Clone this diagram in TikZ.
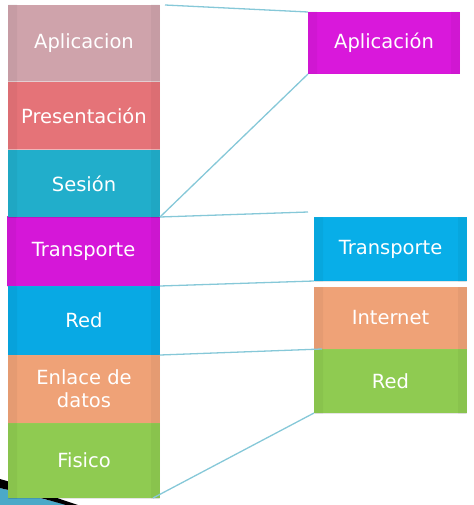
\documentclass[tikz,border=0pt]{standalone}
\usepackage{fontspec}
\setmainfont{DejaVu Sans}
\definecolor{cApl}{HTML}{CFA3AB}
\definecolor{cPre}{HTML}{E57378}
\definecolor{cSes}{HTML}{21AECB}
\definecolor{cTra}{HTML}{D517D8}
\definecolor{cRed}{HTML}{08A9E4}
\definecolor{cEnl}{HTML}{EFA277}
\definecolor{cFis}{HTML}{8FCB51}
\definecolor{cAplB}{HTML}{D918DB}
\definecolor{cTraB}{HTML}{08AEE8}
\definecolor{cLine}{HTML}{86C8D8}
\definecolor{cSwoosh}{HTML}{4BA9C8}
\tikzset{
  layer/.style={draw=none, inner sep=0pt, outer sep=0pt, anchor=north west,
    text=white, align=center,
    font=\fontsize{19.5}{23}\selectfont,
    path picture={
      \def\bv{9pt}
      \fill[white, opacity=0.22] (path picture bounding box.north west) -- (path picture bounding box.north east)
        -- ([xshift=-\bv,yshift=\bv]path picture bounding box.north east) -- ([xshift=\bv,yshift=\bv]path picture bounding box.north west) -- cycle;
      \fill[black, opacity=0.10] (path picture bounding box.south west) -- (path picture bounding box.south east)
        -- ([xshift=-\bv,yshift=-\bv]path picture bounding box.south east) -- ([xshift=\bv,yshift=-\bv]path picture bounding box.south west) -- cycle;
      \fill[black, opacity=0.04] (path picture bounding box.north west) -- (path picture bounding box.south west)
        -- ([xshift=\bv,yshift=-\bv]path picture bounding box.south west) -- ([xshift=\bv,yshift=\bv]path picture bounding box.north west) -- cycle;
      \fill[black, opacity=0.04] (path picture bounding box.north east) -- (path picture bounding box.south east)
        -- ([xshift=-\bv,yshift=-\bv]path picture bounding box.south east) -- ([xshift=-\bv,yshift=\bv]path picture bounding box.north east) -- cycle;
      \fill[white, opacity=0.35] (path picture bounding box.north west) rectangle ([yshift=2pt]path picture bounding box.north east);
    }},
  link/.style={draw=cLine, line width=1.3pt}
}
\begin{document}
\begin{tikzpicture}[x=1pt, y=-1pt]
\useasboundingbox (0,0) rectangle (473,505);
% decorative swoosh bottom-left
\fill[cSwoosh] (0,488) .. controls (25,494) and (45,500) .. (70,505) -- (0,505) -- cycle;
\fill[black] (0,479) .. controls (25,486) and (50,496) .. (78,505) -- (66,505) .. controls (45,499) and (22,493) .. (0,488) -- cycle;
% left stack
\node[layer, fill=cApl, minimum width=152pt, minimum height=77pt] (apl) at (8,5) {Aplicacion};
\node[layer, fill=cPre, minimum width=152pt, minimum height=68pt] (pre) at (8,82) {Presentación};
\node[layer, fill=cTra, minimum width=153pt, minimum height=70pt] (tra) at (7,216) {Transporte};
\node[layer, fill=cSes, minimum width=152pt, minimum height=67pt] (ses) at (8,150) {Sesión};
\node[layer, fill=cRed, minimum width=152pt, minimum height=69pt] (red) at (8,286) {Red};
\node[layer, fill=cEnl, minimum width=152pt, minimum height=68pt] (enl) at (8,355) {Enlace de\\datos};
\node[layer, fill=cFis, minimum width=152pt, minimum height=75pt] (fis) at (8,423) {Fisico};
% right stack
\node[layer, fill=cAplB, minimum width=152pt, minimum height=62pt] (apl2) at (308,12) {Aplicación};
\node[layer, fill=cTraB, minimum width=153pt, minimum height=64pt] (tra2) at (314,217) {Transporte};
\node[layer, fill=cEnl, minimum width=153pt, minimum height=62pt] (int) at (314,287) {Internet};
\node[layer, fill=cFis, minimum width=153pt, minimum height=64pt] (red2) at (314,349) {Red};
% connectors
\draw[link] ([xshift=5pt]apl.north east) -- (apl2.north west);
\draw[link] (ses.south east) -- (apl2.south west);
\draw[link] (ses.south east) -- ([xshift=-6pt,yshift=5pt]tra2.north west);
\draw[link] (tra.south east) -- (tra2.south west);
\draw[link] (red.south east) -- ([xshift=8pt]int.south west);
\draw[link] ([xshift=-7pt]fis.south east) -- (red2.south west);
\end{tikzpicture}
\end{document}
